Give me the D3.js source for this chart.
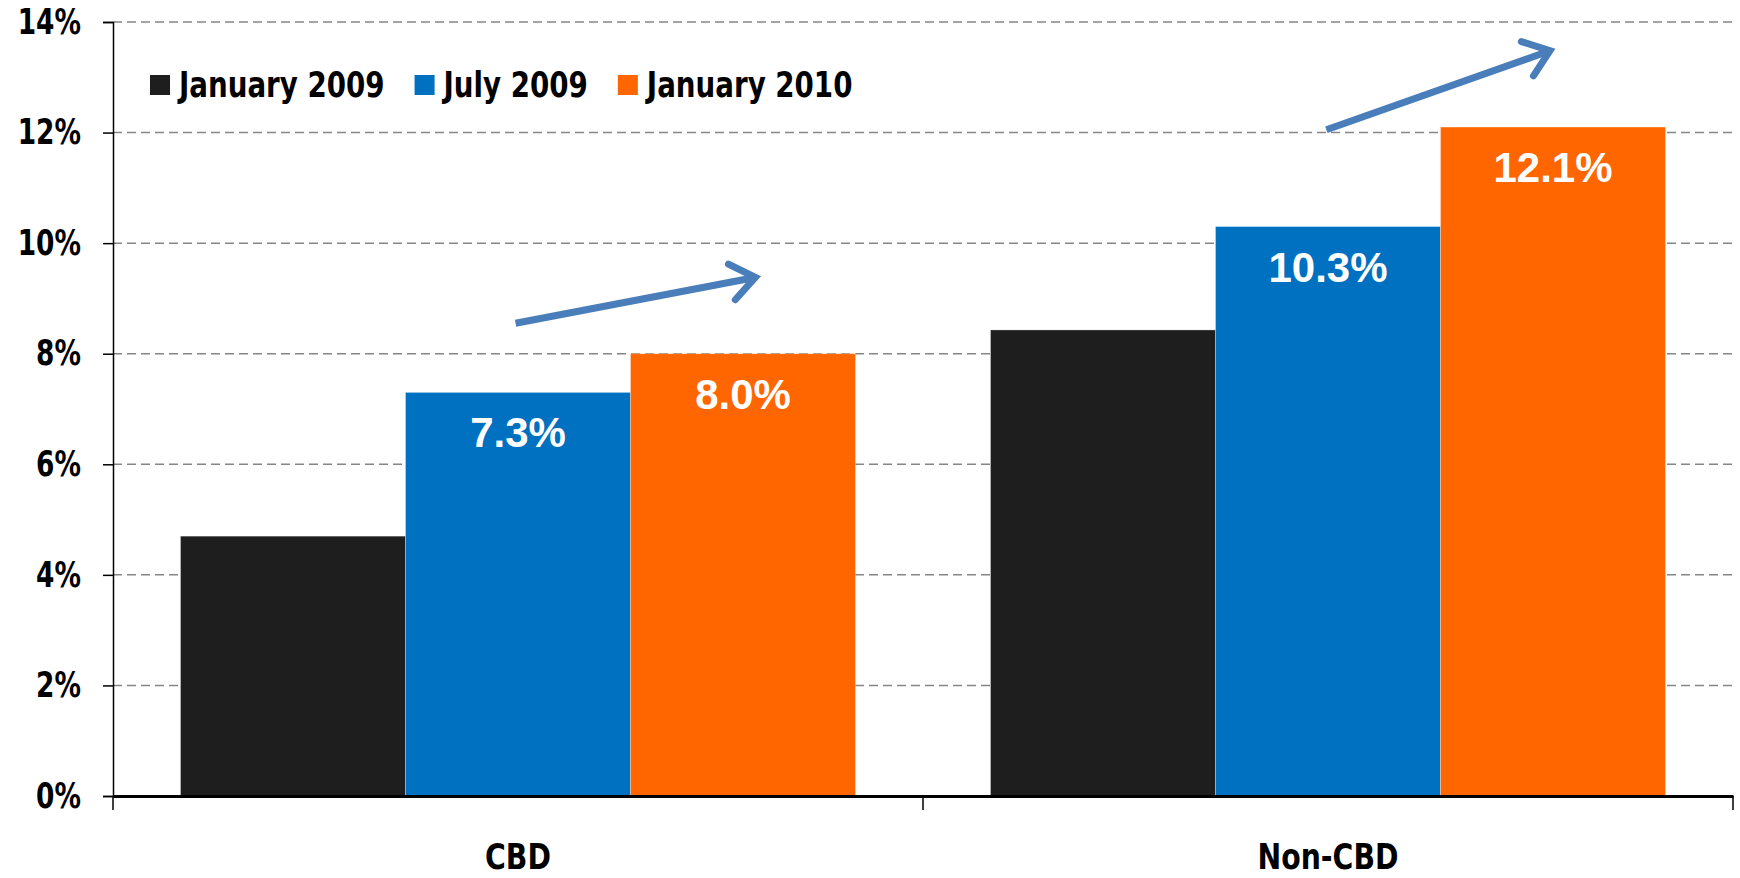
<!DOCTYPE html>
<html>
<head>
<meta charset="utf-8">
<script src="https://cdn.jsdelivr.net/npm/d3@7"></script>
<style>
  html, body { margin: 0; padding: 0; background: #fff; }
  svg { display: block; }
</style>
</head>
<body>
<svg id="chart" width="1740" height="878"></svg>
<script>
// ---- data ----
const categories = ["CBD", "Non-CBD"];
const seriesNames = ["January 2009", "July 2009", "January 2010"];
const seriesColors = ["#1e1e1e", "#0070c0", "#ff6600"];
const jan2009 = [4.7, 8.43];
const jul2009 = [7.3, 10.3];
const jan2010 = [8.0, 12.1];
const showLabels = [false, true, true];
const yTicks = [0, 2, 4, 6, 8, 10, 12, 14];
// trend arrows (in data units: band fraction, value %)
const arrowStarts = [[0.497, 8.55], [0.498, 12.05]];
const arrowEnds = [[0.793, 9.38], [0.774, 13.48]];

const seriesValues = [jan2009, jul2009, jan2010];

const svg = d3.select("#chart");
const margin = { left: 113, right: 7, top: 22, bottom: 82 };
const W = 1740, H = 878;
const x0 = margin.left, x1 = W - margin.right;
const yTop = margin.top, yBot = H - margin.bottom;

const x = d3.scaleBand().domain(categories).range([x0, x1]).paddingInner(0).paddingOuter(0);
const inner = d3.scaleBand().domain(seriesNames).range([0, x.bandwidth()]).paddingOuter(0.3).paddingInner(0);
const y = d3.scaleLinear().domain([0, 14]).range([yBot, yTop]);

const tickFont = "'Liberation Sans Narrow', 'Arial Narrow', 'DejaVu Sans Condensed', sans-serif";
const tickScale = 0.84, legScale = 0.88, catScale = 0.9;

// gridlines
svg.append("g").selectAll("line").data(yTicks.filter(d => d > 0)).join("line")
  .attr("x1", x0).attr("x2", x1)
  .attr("y1", d => y(d)).attr("y2", d => y(d))
  .attr("stroke", "#868686").attr("stroke-width", 1.5)
  .attr("stroke-dasharray", "9,5");

// bars
const groups = svg.append("g").selectAll("g").data(seriesValues).join("g")
  .attr("fill", (d, i) => seriesColors[i]);
groups.selectAll("rect").data((vals, si) => vals.map((v, ci) => ({ v, ci, si }))).join("rect")
  .attr("x", d => x(categories[d.ci]) + inner(seriesNames[d.si]))
  .attr("width", inner.bandwidth())
  .attr("y", d => y(d.v))
  .attr("height", d => yBot - y(d.v))
  .attr("stroke", "#ffffff").attr("stroke-opacity", 0.3).attr("stroke-width", 1);

// data labels
svg.append("g").selectAll("text")
  .data(seriesValues.flatMap((vals, si) => showLabels[si] ? vals.map((v, ci) => ({ v, ci, si })) : []))
  .join("text")
  .attr("x", d => x(categories[d.ci]) + inner(seriesNames[d.si]) + inner.bandwidth() / 2)
  .attr("y", d => y(d.v) + 55)
  .attr("text-anchor", "middle")
  .attr("fill", "#fff")
  .attr("font-family", "'Liberation Sans', Arial, sans-serif")
  .attr("font-weight", "bold")
  .attr("font-size", 42)
  .text(d => d.v.toFixed(1) + "%");

// y axis
const yAxis = d3.axisLeft(y).tickValues(yTicks).tickFormat(d => d + "%").tickSize(10).tickPadding(22);
const gy = svg.append("g").attr("transform", `translate(${x0},0)`).call(yAxis);
gy.select(".domain").attr("stroke", "#000").attr("stroke-width", 1.5);
gy.selectAll(".tick line").attr("stroke", "#000").attr("stroke-width", 1.5);
gy.selectAll(".tick text").attr("font-family", tickFont).attr("font-weight", "bold")
  .attr("font-size", 35).attr("fill", "#000")
  .attr("x", -32 / tickScale).attr("transform", `scale(${tickScale},1)`);

// x axis
const xAxis = d3.axisBottom(x).tickSize(0).tickPadding(0);
const gx = svg.append("g").attr("transform", `translate(0,${yBot})`).call(xAxis);
gx.select(".domain").attr("stroke", "#000").attr("stroke-width", 3);
gx.selectAll(".tick text").attr("font-family", tickFont).attr("font-weight", "bold")
  .attr("font-size", 35).attr("fill", "#000").attr("dy", "0.32em").attr("y", 62)
  .attr("transform", `scale(${catScale},1)`);
// category separator ticks
const sepPos = [x0, ...categories.map(c => x(c) + x.bandwidth())];
gx.append("g").selectAll("line").data(sepPos).join("line")
  .attr("x1", d => d).attr("x2", d => d).attr("y1", 0).attr("y2", 14)
  .attr("stroke", "#000").attr("stroke-width", 1.5);

// legend
const leg = svg.append("g").attr("transform", "translate(150,85)");
let lx = 0;
seriesNames.forEach((name, i) => {
  const g = leg.append("g").attr("transform", `translate(${lx},0)`);
  g.append("rect").attr("x", 0).attr("y", -10).attr("width", 20).attr("height", 20).attr("fill", seriesColors[i]);
  const t = g.append("g").attr("transform", `translate(29,0) scale(${legScale},1)`)
    .append("text").attr("x", 0).attr("y", 0).attr("dy", "0.35em")
    .attr("font-family", tickFont).attr("font-weight", "bold").attr("font-size", 35)
    .attr("fill", "#000").text(name);
  lx += 29 + t.node().getComputedTextLength() * legScale + 30;
});

// arrows
const arrowColor = "#4a7ebb";
svg.append("g").selectAll("g").data(arrowStarts.map((s, i) => ({ s, e: arrowEnds[i], c: categories[i] }))).join("g")
  .each(function (d) {
    const g = d3.select(this);
    const sx = x(d.c) + d.s[0] * x.bandwidth(), sy = y(d.s[1]);
    const ex = x(d.c) + d.e[0] * x.bandwidth(), ey = y(d.e[1]);
    const ang = Math.atan2(ey - sy, ex - sx);
    g.append("line").attr("x1", sx).attr("y1", sy)
      .attr("x2", ex - 3 * Math.cos(ang)).attr("y2", ey - 3 * Math.sin(ang))
      .attr("stroke", arrowColor).attr("stroke-width", 7);
    const L = 30, spread = 0.65;
    const p1 = [ex - L * Math.cos(ang - spread), ey - L * Math.sin(ang - spread)];
    const p2 = [ex - L * Math.cos(ang + spread), ey - L * Math.sin(ang + spread)];
    g.append("path").attr("d", d3.line()([p1, [ex, ey], p2]))
      .attr("fill", "none").attr("stroke", arrowColor).attr("stroke-width", 7)
      .attr("stroke-linecap", "round").attr("stroke-linejoin", "miter");
  });
</script>
</body>
</html>
